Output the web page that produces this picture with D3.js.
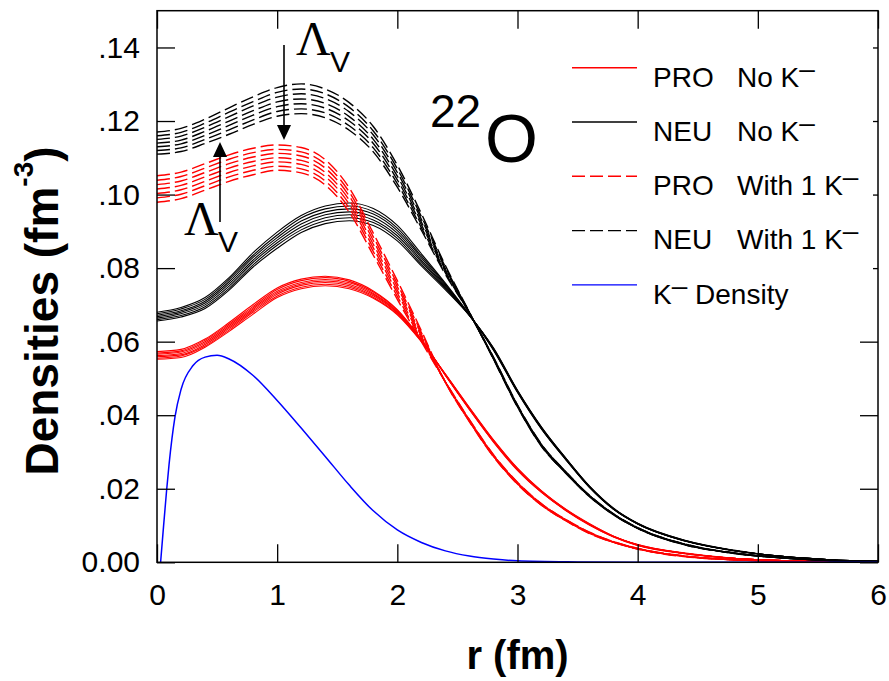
<!DOCTYPE html>
<html>
<head>
<meta charset="utf-8">
<script src="https://cdn.jsdelivr.net/npm/d3@7"></script>
<style>
  body { margin: 0; background: #fff; }
</style>
</head>
<body>
<script>
// radial grid (fm) for the nucleon densities
const rGrid = [0, 0.2, 0.4, 0.6, 0.8, 1.0, 1.2, 1.4, 1.6, 1.8, 2.0, 2.2, 2.4, 2.6, 2.8, 3.0, 3.2, 3.4, 3.6, 3.8, 4.0, 4.4, 4.8, 5.2, 5.6, 6.0];

// densities in 1e-4 fm^-3, one row per parameter set
const proNoK = [
  [573,579,607,652,701,746,770,778,768,738,687,606,508,415,327,250,190,141,101,69,46,23,11,5,2,1],
  [569,575,604,648,696,742,766,774,764,735,685,605,509,416,328,251,190,142,102,69,46,24,11,5,2,1],
  [566,572,600,644,692,737,761,769,760,731,682,604,509,417,329,252,191,142,102,70,47,24,11,5,2,1],
  [562,568,596,640,688,733,757,765,756,728,680,603,510,418,330,253,192,143,103,70,47,24,11,5,2,1],
  [559,564,592,636,684,729,753,761,752,725,678,602,511,419,331,254,193,144,103,70,47,24,11,5,2,1],
  [555,561,588,632,680,724,748,756,748,721,675,601,511,420,332,255,194,144,104,71,48,24,11,5,2,1],
  [552,557,585,628,675,720,744,752,744,718,673,600,512,421,333,256,194,145,105,71,48,25,11,5,2,1]
];
const neuNoK = [
  [680,693,720,774,842,898,943,969,977,962,916,839,759,673,577,462,362,280,203,144,104,57,31,16,7,3],
  [676,689,715,769,835,890,936,961,969,954,909,833,756,673,578,463,363,280,204,144,104,57,32,16,7,3],
  [672,684,710,763,829,883,928,953,961,947,902,828,753,672,579,464,364,281,204,145,105,58,32,16,7,3],
  [668,680,705,757,822,876,920,945,953,939,895,822,750,672,580,465,365,282,205,145,105,58,32,16,7,3],
  [664,676,700,751,816,869,912,937,945,931,888,817,747,672,581,466,366,283,206,146,105,58,32,16,7,3],
  [660,671,695,745,809,862,904,929,937,924,881,811,744,671,582,467,367,284,206,146,106,59,32,16,7,3],
  [656,667,690,740,803,854,897,921,929,916,874,806,741,671,583,468,368,284,207,147,106,59,33,16,7,3]
];
const proWithK = [
  [1051,1061,1084,1108,1126,1135,1128,1095,1018,895,766,630,489,382,287,212,155,113,78,54,36,15,7,3,1,0],
  [1039,1049,1072,1096,1114,1123,1116,1083,1007,885,757,625,489,383,288,213,155,114,79,54,36,16,7,3,1,0],
  [1027,1037,1060,1084,1102,1112,1105,1072,996,875,749,620,490,384,289,214,156,114,80,55,37,16,7,3,1,0],
  [1015,1025,1048,1072,1090,1100,1093,1060,985,865,740,615,490,385,290,215,157,115,80,55,37,16,7,3,1,0],
  [1003,1013,1036,1060,1078,1089,1082,1049,974,855,732,610,490,386,291,216,158,116,80,55,37,16,7,3,1,0],
  [991,1001,1024,1048,1066,1077,1070,1037,963,845,723,605,491,387,292,217,159,116,81,56,38,16,7,3,1,0],
  [979,989,1012,1036,1054,1066,1059,1026,952,835,715,600,491,388,293,218,159,117,82,56,38,17,7,3,1,0]
];
const neuWithK = [
  [1170,1180,1205,1236,1266,1291,1301,1287,1250,1185,1080,948,807,680,552,422,315,243,178,129,92,47,24,12,5,2],
  [1160,1169,1194,1224,1253,1278,1287,1274,1237,1173,1070,940,803,679,553,423,316,243,179,129,92,47,25,12,5,2],
  [1150,1159,1183,1212,1241,1265,1274,1261,1225,1162,1060,933,799,679,554,424,317,244,179,130,93,48,25,12,5,2],
  [1140,1148,1172,1200,1228,1252,1260,1248,1212,1150,1050,925,795,678,555,425,318,245,180,130,93,48,25,12,5,2],
  [1130,1138,1161,1188,1216,1239,1247,1235,1200,1139,1040,918,791,678,556,426,319,246,181,131,93,48,25,12,5,2],
  [1120,1127,1150,1176,1203,1226,1233,1222,1187,1127,1030,910,787,677,557,427,320,247,181,131,94,49,25,12,5,2],
  [1110,1117,1139,1164,1191,1213,1220,1209,1175,1116,1020,903,783,677,558,428,321,247,182,132,94,49,26,12,5,2]
];

// K- density (own grid, finer near the origin)
const kR = [0.03, 0.05, 0.08, 0.1, 0.15, 0.2, 0.3, 0.4, 0.5, 0.6, 0.8, 1.0, 1.2, 1.4, 1.6, 1.8, 2.0, 2.2, 2.4, 2.6, 2.8, 3.0, 3.5, 4.0, 5.0, 6.0];
const kDensity = [0, 80, 196, 265, 396, 470, 535, 558, 563, 553, 508, 440, 365, 288, 210, 140, 88, 54, 31, 17, 9, 4, 1, 0, 0, 0];

const xTicks = [0, 1, 2, 3, 4, 5, 6];
const yTicks = [0, 0.02, 0.04, 0.06, 0.08, 0.10, 0.12, 0.14];
const yTickLabels = ["0.00", ".02", ".04", ".06", ".08", ".10", ".12", ".14"];

const legendRows = [
  {part: "PRO", tag: "No ", color: "#ff0000", dash: null},
  {part: "NEU", tag: "No ", color: "#000000", dash: null},
  {part: "PRO", tag: "With 1 ", color: "#ff0000", dash: "13,5"},
  {part: "NEU", tag: "With 1 ", color: "#000000", dash: "13,5"},
  {part: null, tag: "", color: "#0000ff", dash: null}
];

const width = 889, height = 681;
const sans = "Arial, 'Liberation Sans', Helvetica, sans-serif";
const serif = "'Liberation Serif', 'Times New Roman', Times, serif";

const x = d3.scaleLinear().domain([0, 6]).range([157, 878]);
const y = d3.scaleLinear().domain([0, 0.15]).range([562.3, 10.7]);

const svg = d3.select("body").append("svg")
  .attr("width", width)
  .attr("height", height)
  .style("background", "#fff");

const line = d3.line()
  .x((d, i) => x(rGrid[i]))
  .y(d => y(d / 1e4))
  .curve(d3.curveMonotoneX);

function drawFamily(rows, color, w, dash) {
  svg.append("g")
    .selectAll("path")
    .data(rows)
    .join("path")
    .attr("d", line)
    .attr("fill", "none")
    .attr("stroke", color)
    .attr("stroke-width", w)
    .attr("stroke-dasharray", dash);
}

drawFamily(proNoK, "#ff0000", 1.1, null);
drawFamily(neuNoK, "#000000", 1.1, null);
drawFamily(proWithK, "#ff0000", 1.4, "13,5");
drawFamily(neuWithK, "#000000", 1.4, "13,5");

const kLine = d3.line()
  .x((d, i) => x(kR[i]))
  .y(d => y(d / 1e4))
  .curve(d3.curveMonotoneX);

svg.append("path")
  .datum(kDensity)
  .attr("d", kLine)
  .attr("fill", "none")
  .attr("stroke", "#0000ff")
  .attr("stroke-width", 1.5);

// mirrored ticks on top and right
svg.append("g")
  .attr("transform", `translate(0,${y.range()[1]})`)
  .call(d3.axisTop(x).tickValues(xTicks).tickSize(-18).tickSizeOuter(0).tickFormat(""))
  .call(g => g.select(".domain").remove())
  .selectAll("line").attr("stroke-width", 1.3);

svg.append("g")
  .attr("transform", `translate(${x.range()[1]},0)`)
  .call(d3.axisRight(y).tickValues(yTicks).tickSize(-18).tickSizeOuter(0).tickFormat(""))
  .call(g => g.select(".domain").remove())
  .selectAll("line").attr("stroke-width", 1.3);

// legend (white box hides the right ticks behind it)
svg.append("rect")
  .attr("x", 560).attr("y", 42)
  .attr("width", 313).attr("height", 275)
  .attr("fill", "#fff");

function kText(sel, before, after) {
  sel.append("tspan").text(before + "K");
  sel.append("tspan").attr("dy", -9).text("\u2013");
  sel.append("tspan").attr("dy", 9).text(after);
}

legendRows.forEach((d, i) => {
  const ly = 67.7 + i * 54.3, ty = 86.5 + i * 54.3;
  svg.append("line")
    .attr("x1", 572).attr("x2", 637)
    .attr("y1", ly).attr("y2", ly)
    .attr("stroke", d.color)
    .attr("stroke-width", 1.4)
    .attr("stroke-dasharray", d.dash);
  if (d.part) {
    svg.append("text").attr("x", 653).attr("y", ty)
      .attr("font-family", sans).attr("font-size", 28)
      .text(d.part);
    svg.append("text").attr("x", 737).attr("y", ty)
      .attr("font-family", sans).attr("font-size", 28)
      .call(kText, d.tag, "");
  } else {
    svg.append("text").attr("x", 653).attr("y", ty)
      .attr("font-family", sans).attr("font-size", 28)
      .call(kText, "", " Density");
  }
});

// frame
svg.append("rect")
  .attr("x", x(0)).attr("y", y(0.15))
  .attr("width", x(6) - x(0)).attr("height", y(0) - y(0.15))
  .attr("fill", "none")
  .attr("stroke", "#000")
  .attr("stroke-width", 1.5);

const gx = svg.append("g")
  .attr("transform", `translate(0,${y(0)})`)
  .call(d3.axisBottom(x).tickValues(xTicks).tickSize(-18).tickSizeOuter(0).tickPadding(21).tickFormat(d3.format("d")))
  .attr("font-size", 30).attr("font-family", sans);
gx.select(".domain").remove();
gx.selectAll("line").attr("stroke-width", 1.3);

const gy = svg.append("g")
  .attr("transform", `translate(${x(0)},0)`)
  .call(d3.axisLeft(y).tickValues(yTicks).tickSize(-18).tickSizeOuter(0).tickPadding(17).tickFormat((d, i) => yTickLabels[i]))
  .attr("font-size", 30).attr("font-family", sans);
gy.select(".domain").remove();
gy.selectAll("line").attr("stroke-width", 1.3);

// axis titles
svg.append("text")
  .attr("x", (x(0) + x(6)) / 2).attr("y", 669)
  .attr("text-anchor", "middle")
  .attr("font-family", sans).attr("font-size", 40).attr("font-weight", "bold")
  .text("r (fm)");

const yl = svg.append("text")
  .attr("transform", "translate(58,311) rotate(-90)")
  .attr("text-anchor", "middle")
  .attr("font-family", sans).attr("font-size", 46).attr("font-weight", "bold");
yl.append("tspan").text("Densities (fm");
yl.append("tspan").attr("dy", -25).attr("font-size", 28).text("-3");
yl.append("tspan").attr("dy", 25).text(")");

// nucleus label
svg.append("text").attr("x", 430).attr("y", 127)
  .attr("font-family", sans).attr("font-size", 46).text("22");
svg.append("text").attr("x", 485).attr("y", 162)
  .attr("font-family", sans).attr("font-size", 68).text("O");

// Lambda_v arrows
function lambdaLabel(lx, ly) {
  svg.append("text").attr("x", lx).attr("y", ly)
    .attr("font-family", serif).attr("font-size", 48).text("\u039B");
  svg.append("text").attr("x", lx + 34).attr("y", ly + 17)
    .attr("font-family", sans).attr("font-size", 30).text("V");
}
lambdaLabel(296, 55);
lambdaLabel(184, 235);

function arrow(ax, yFrom, yTip) {
  const dir = yTip > yFrom ? 1 : -1;
  svg.append("line")
    .attr("x1", ax).attr("x2", ax)
    .attr("y1", yFrom).attr("y2", yTip - dir * 12)
    .attr("stroke", "#000").attr("stroke-width", 1.6);
  svg.append("path")
    .attr("d", `M${ax},${yTip} L${ax - 7},${yTip - dir * 15} L${ax + 7},${yTip - dir * 15} Z`)
    .attr("fill", "#000");
}
arrow(284, 45, 140);
arrow(220, 222, 142);
</script>
</body>
</html>
